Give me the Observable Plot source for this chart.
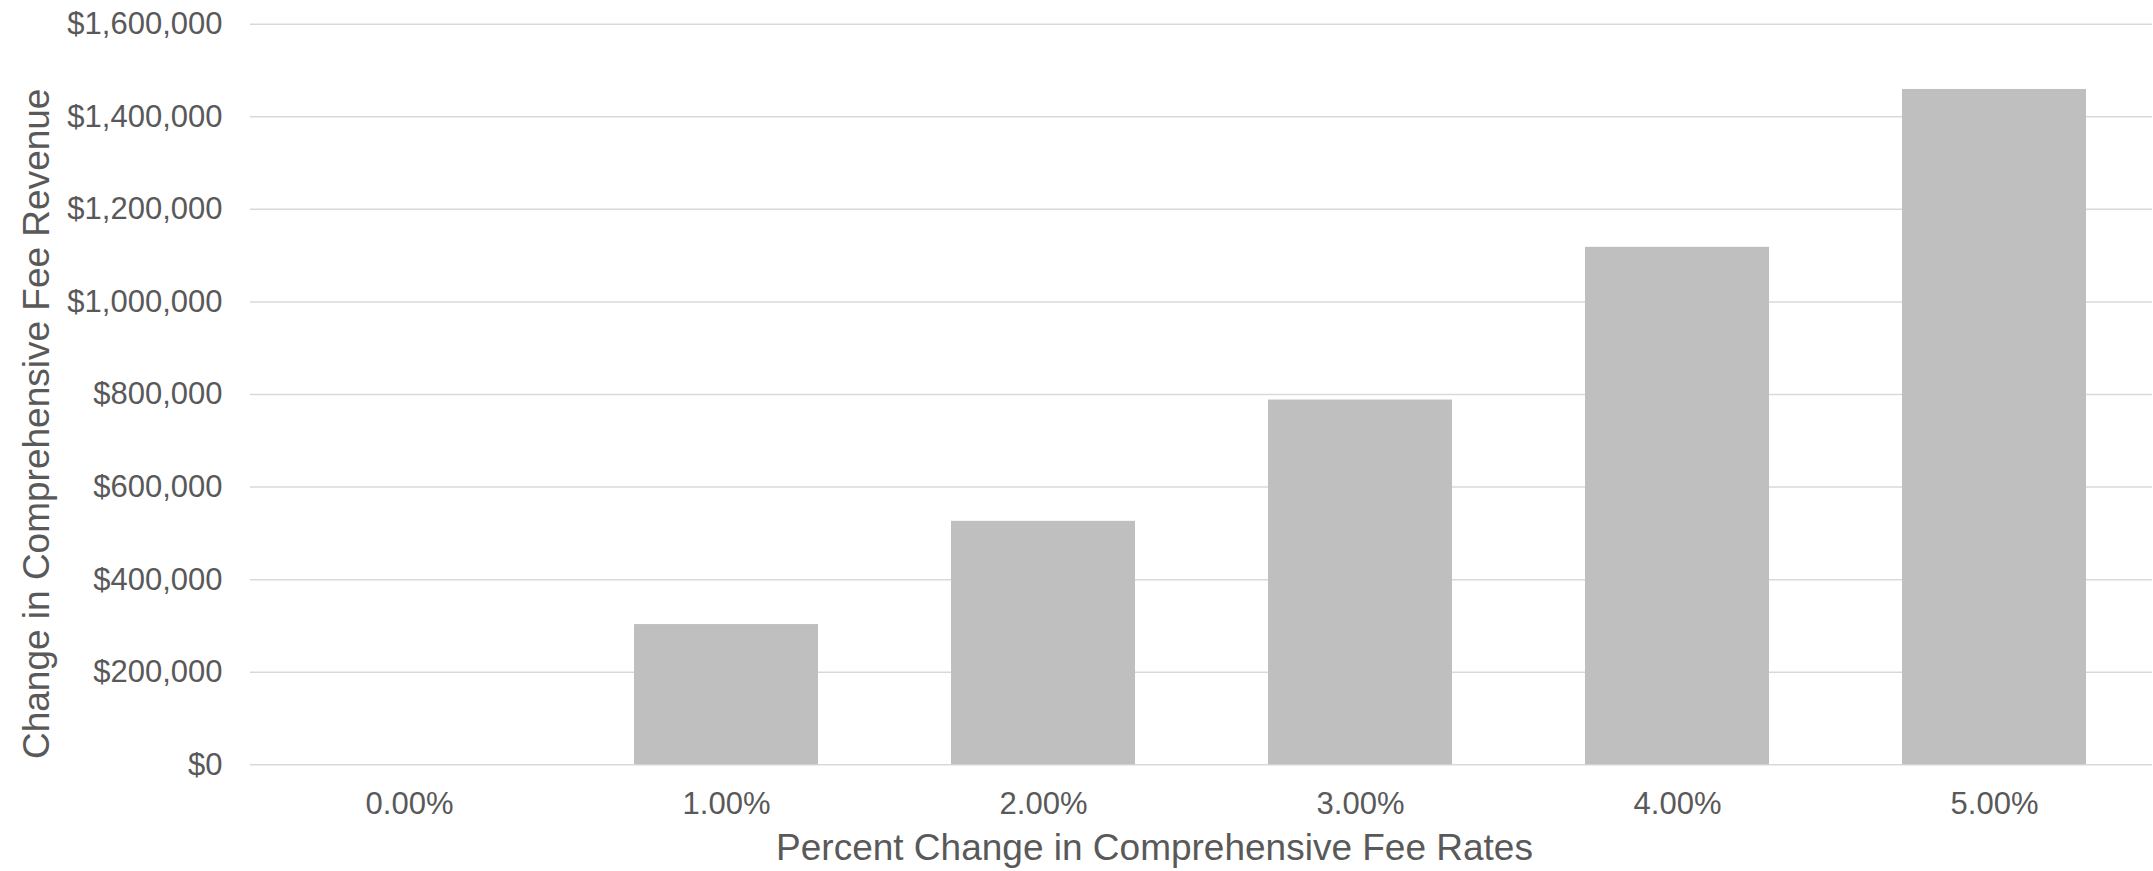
<!DOCTYPE html>
<html>
<head>
<meta charset="utf-8">
<script src="https://cdn.jsdelivr.net/npm/d3@7"></script>
<script src="https://cdn.jsdelivr.net/npm/@observablehq/plot@0.6"></script>
<style>
  html, body { margin: 0; padding: 0; background: #ffffff; overflow: hidden; }
  #chart svg { display: block; }
</style>
</head>
<body>
<div id="chart"></div>
<script>
const categories = ["0.00%", "1.00%", "2.00%", "3.00%", "4.00%", "5.00%"];
const revenue = [0, 303000, 526000, 788000, 1118000, 1459000];
const yTicks = [0, 200000, 400000, 600000, 800000, 1000000, 1200000, 1400000, 1600000];
const xTitle = "Percent Change in Comprehensive Fee Rates";
const yTitle = "Change in Comprehensive Fee Revenue";

const table = categories.map((c, i) => ({cat: c, value: revenue[i]}));
const fmt = d => "$" + d3.format(",")(d);

const W = 2153, H = 871;
const mTop = 23.7, mBottom = H - 764.3, mLeft = 250, mRight = 1;

const chart = Plot.plot({
  width: W,
  height: H,
  marginTop: mTop,
  marginBottom: mBottom,
  marginLeft: mLeft,
  marginRight: mRight,
  style: {fontFamily: "'Liberation Sans', Arial, sans-serif", fontSize: "31px", color: "#595959", background: "#ffffff"},
  x: {domain: categories, paddingInner: 0.42, paddingOuter: 0.21, label: null},
  y: {domain: [0, 1600000], label: null},
  marks: [
    Plot.ruleY(yTicks, {stroke: "#d9d9d9", strokeWidth: 1.5}),
    Plot.barY(table, {x: "cat", y: "value", fill: "#bfbfbf"}),
    Plot.axisY({ticks: yTicks, tickFormat: fmt, tickSize: 0, tickPadding: 28, fontSize: 31, label: null}),
    Plot.axisX({tickSize: 0, tickPadding: 27, fontSize: 31, label: null}),
    Plot.text([xTitle], {frameAnchor: "bottom", text: d => d, textAnchor: "middle", lineAnchor: "middle", dx: -47, dy: 83.7, fontSize: 37, fill: "#595959"}),
    Plot.text([yTitle], {frameAnchor: "left", text: d => d, textAnchor: "middle", lineAnchor: "middle", rotate: -90, dx: -213.5, dy: 29.3, fontSize: 37, fill: "#595959"})
  ]
});
document.getElementById("chart").appendChild(chart);
</script>
</body>
</html>
